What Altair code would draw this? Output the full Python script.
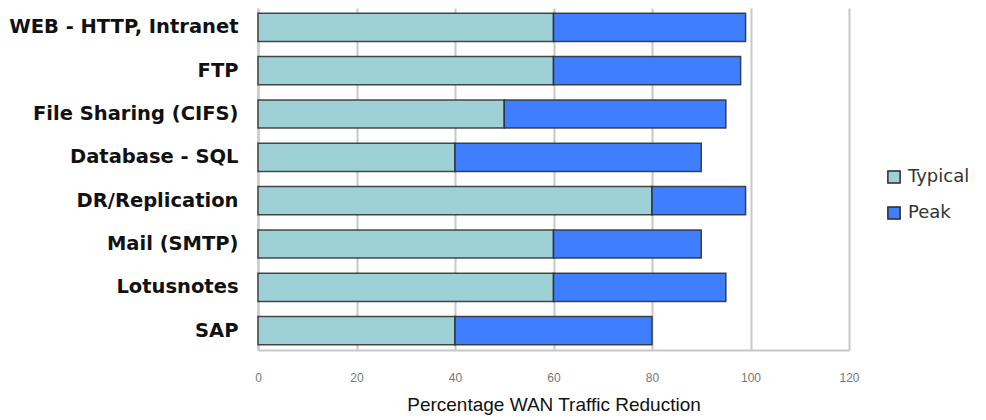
import altair as alt
import pandas as pd

categories = ["WEB - HTTP, Intranet", "FTP", "File Sharing (CIFS)", "Database - SQL",
              "DR/Replication", "Mail (SMTP)", "Lotusnotes", "SAP"]
typical = [60, 60, 50, 40, 80, 60, 60, 40]
peak_total = [99, 98, 95, 90, 99, 90, 95, 80]
series = ["Typical", "Peak"]
colors = ["#9dd1d5", "#3f7fff"]
x_ticks = [0, 20, 40, 60, 80, 100, 120]

rows = []
for c, t, p in zip(categories, typical, peak_total):
    rows.append({"category": c, "series": "Typical", "start": 0, "end": t})
    rows.append({"category": c, "series": "Peak", "start": t, "end": p})
df = pd.DataFrame(rows)

chart = alt.Chart(df).mark_bar(stroke="#2a2a2a", strokeWidth=1.5, strokeOpacity=0.85).encode(
    y=alt.Y("category:N", sort=categories, title=None,
            scale=alt.Scale(paddingInner=0.35, paddingOuter=0.12),
            axis=alt.Axis(labelFont="DejaVu Sans", labelFontWeight="bold", labelFontSize=19.5,
                          labelColor="#111", labelPadding=20, labelLimit=400, ticks=False,
                          domain=True, domainColor="#c8c8c8", domainWidth=2, grid=False)),
    x=alt.X("start:Q", title="Percentage WAN Traffic Reduction",
            scale=alt.Scale(domain=[0, 120], nice=False),
            axis=alt.Axis(values=x_ticks, labelFont="Liberation Sans", labelFontSize=12,
                          labelColor="#777", labelPadding=22, labelFlush=False, ticks=False,
                          domainColor="#c8c8c8", domainWidth=2,
                          grid=True, gridColor="#c8c8c8", gridWidth=2,
                          titleFont="Liberation Sans", titleFontSize=19, titleFontWeight="normal",
                          titleColor="#111", titlePadding=12)),
    x2="end:Q",
    color=alt.Color("series:N", sort=series,
                    scale=alt.Scale(domain=series, range=colors),
                    legend=alt.Legend(title=None, orient="none", legendX=627, legendY=160,
                                      symbolType="square", symbolSize=150,
                                      symbolStrokeColor="#2a2a2a", symbolStrokeWidth=1.5,
                                      labelFont="DejaVu Sans", labelFontSize=18,
                                      labelColor="#333", rowPadding=16, labelOffset=5)),
    order=alt.Order("start:Q"),
).properties(
    width=591, height=342,
    padding={"left": 250, "top": 0, "right": 128, "bottom": 70},
    autosize=alt.AutoSizeParams(type="none"),
).configure_view(stroke=None)

chart.save("out.html", embed_options={"renderer": "svg", "actions": False})
